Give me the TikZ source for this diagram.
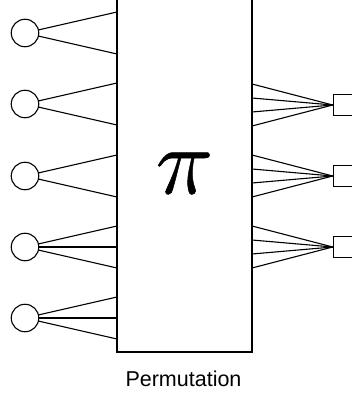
\documentclass[tikz,border=0pt]{standalone}
\usepackage{fontspec}
\setmainfont{Liberation Sans}
\begin{document}
\begin{tikzpicture}[x=1pt,y=-1pt,
  inp/.style={draw,circle,minimum size=27.5pt,inner sep=0pt,line width=1.1pt},
  outp/.style={draw,rectangle,minimum size=20.5pt,inner sep=0pt,line width=1.1pt},
  permbox/.style={draw,rectangle,line width=1.1pt,inner sep=0pt},
  wire/.style={draw,line width=1.1pt}]
\useasboundingbox (0,0) rectangle (351,393);
% permutation box
\node[permbox,minimum width=135pt,minimum height=362pt] (perm) at (184.5,171) {};
\node[scale=9.5] (symb) at (184.5,173) {\special{pdf:literal direct 2 Tr 0.05 w}$\pi$\special{pdf:literal direct 0 Tr}};
\node[font=\fontsize{21.5}{24}\selectfont] (lbl) at (183.5,379) {Permutation};
% inputs
\node[inp] (c1) at (25,33) {};
\node[inp] (c2) at (25,104) {};
\node[inp] (c3) at (25,176) {};
\node[inp] (c4) at (25,247) {};
\node[inp] (c5) at (25,318) {};
% outputs
\node[outp] (s1) at (343.5,105) {};
\node[outp] (s2) at (343.5,176) {};
\node[outp] (s3) at (343.5,247) {};
% left endpoints
\foreach \n/\y in {a1/12,a2/54,b1/83,b2/125,c1/155,c2/197,d1/226,d2/247,d3/268,e1/297,e2/318,e3/339}
  \coordinate (L\n) at (117,\y);
% right endpoints
\foreach \n/\y in {a1/84,a2/98,a3/112,a4/126,b1/155,b2/169,b3/183,b4/197,c1/226,c2/240,c3/254,c4/268}
  \coordinate (R\n) at (252,\y);
\draw[wire] (c1) -- (La1); \draw[wire] (c1) -- (La2);
\draw[wire] (c2) -- (Lb1); \draw[wire] (c2) -- (Lb2);
\draw[wire] (c3) -- (Lc1); \draw[wire] (c3) -- (Lc2);
\draw[wire] (c4) -- (Ld1); \draw[wire] (c4) -- (Ld2); \draw[wire] (c4) -- (Ld3);
\draw[wire] (c5) -- (Le1); \draw[wire] (c5) -- (Le2); \draw[wire] (c5) -- (Le3);
\foreach \k in {1,2,3,4} {
  \draw[wire] (Ra\k) -- (s1.west);
  \draw[wire] (Rb\k) -- (s2.west);
  \draw[wire] (Rc\k) -- (s3.west);
}
\end{tikzpicture}
\end{document}
